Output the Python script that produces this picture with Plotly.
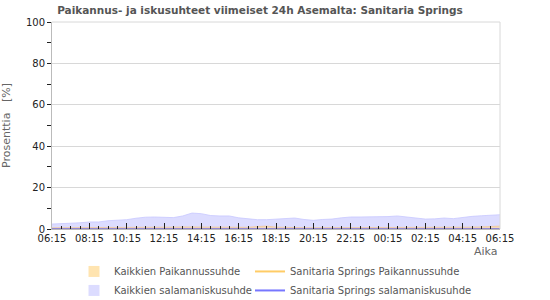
import plotly.graph_objects as go
import pandas as pd

# ---- data ----
start = pd.Timestamp("2024-01-01 06:15")
times = [start + pd.Timedelta(minutes=30 * i) for i in range(49)]
tick_labels = ["06:15", "08:15", "10:15", "12:15", "14:15", "16:15", "18:15",
               "20:15", "22:15", "00:15", "02:15", "04:15", "06:15"]

kaikkien_salama = [2.4, 2.5, 2.9, 3.0, 3.4, 3.4, 4.0, 4.2, 4.5, 5.2, 5.7, 5.8, 5.8,
                   5.5, 6.3, 7.7, 7.4, 6.5, 6.3, 6.3, 5.4, 4.8, 4.5, 4.5, 4.7, 4.9,
                   5.3, 4.6, 4.2, 4.6, 4.8, 5.4, 5.8, 5.8, 5.8, 5.8, 6.0, 6.3, 5.8,
                   5.4, 4.8, 4.9, 5.3, 5.0, 5.7, 6.1, 6.4, 6.8, 6.9]
kaikkien_paikannus = [0.6, 0.6, 0.6, 0.6, 0.6, 0.6, 0.6, 0.6, 0.6, 0.6, 0.6, 0.6, 0.7,
                      0.9, 1.0, 1.0, 1.0, 0.9, 0.8, 0.7, 0.7, 0.8, 1.2, 1.4, 0.9, 0.7,
                      0.6, 0.6, 0.6, 0.6, 0.6, 0.6, 0.6, 0.6, 0.6, 0.6, 0.6, 0.6, 0.6,
                      0.6, 0.6, 0.7, 0.8, 0.8, 0.8, 0.9, 1.0, 1.3, 1.4]
ss_paikannus = [0.0] * 49
ss_salama = [0.0] * 49

FONT = "DejaVu Sans"
fig = go.Figure()

# areas (purple behind orange)
fig.add_trace(go.Scatter(x=times, y=kaikkien_salama, mode="lines", fill="tozeroy",
                         fillcolor="#dcdcff", line=dict(color="#c8c8ff", width=0.8),
                         showlegend=False, hoverinfo="skip"))
fig.add_trace(go.Scatter(x=times, y=kaikkien_paikannus, mode="lines", fill="tozeroy",
                         fillcolor="#f3d9b8", line=dict(color="#f0c8a0", width=0.8),
                         showlegend=False, hoverinfo="skip"))
fig.add_trace(go.Scatter(x=times, y=ss_paikannus, mode="lines",
                         line=dict(color="#ffcc66", width=1.5), showlegend=False))
fig.add_trace(go.Scatter(x=times, y=ss_salama, mode="lines",
                         line=dict(color="#7070f0", width=1.5), showlegend=False))

# legend entries (two columns -> two legends)
fig.add_trace(go.Scatter(x=[None], y=[None], mode="markers", name="Kaikkien Paikannussuhde",
                         marker=dict(symbol="square", size=11, color="#ffe4b0"), legend="legend"))
fig.add_trace(go.Scatter(x=[None], y=[None], mode="markers", name="Kaikkien salamaniskusuhde",
                         marker=dict(symbol="square", size=11, color="#dcdcff"), legend="legend"))
fig.add_trace(go.Scatter(x=[None], y=[None], mode="lines", name="Sanitaria Springs Paikannussuhde",
                         line=dict(color="#ffcc66", width=2), legend="legend2"))
fig.add_trace(go.Scatter(x=[None], y=[None], mode="lines", name="Sanitaria Springs salamaniskusuhde",
                         line=dict(color="#7777ff", width=2), legend="legend2"))

tickvals = [start + pd.Timedelta(hours=2 * i) for i in range(13)]

leg_common = dict(orientation="v", xanchor="left", y=-0.135, yanchor="top",
                  tracegroupgap=0, font=dict(family=FONT, size=10, color="#555"),
                  itemwidth=30, traceorder="normal", bgcolor="rgba(0,0,0,0)")

fig.update_layout(
    width=550, height=300,
    margin=dict(l=52, r=50, t=22, b=71, autoexpand=False),
    paper_bgcolor="white", plot_bgcolor="white",
    font=dict(family=FONT, size=10, color="#222"),
    title=dict(text="<b>Paikannus- ja iskusuhteet viimeiset 24h Asemalta: Sanitaria Springs</b>",
               x=260 / 550, xanchor="center", y=0.965, yanchor="middle",
               font=dict(family=FONT, size=10.5, color="#555")),
    xaxis=dict(range=[times[0], times[-1]], tickvals=tickvals, ticktext=tick_labels,
               ticks="inside", ticklen=6, tickcolor="#222", tickwidth=1,
               minor=dict(dtick=30 * 60 * 1000, tick0=start, ticks="inside", ticklen=3,
                          tickcolor="#222", showgrid=False),
               showgrid=False, showline=True, linecolor="#bbb", mirror=False,
               zeroline=False, tickfont=dict(size=10, color="#222")),
    yaxis=dict(range=[0, 100], dtick=20, ticks="outside", ticklen=4, tickcolor="#222",
               minor=dict(dtick=10, ticks="outside", ticklen=4, tickcolor="#222", showgrid=False),
               showgrid=True, gridcolor="#d8d8d8", showline=True, linecolor="#bbb",
               zeroline=False, tickfont=dict(size=10, color="#222"),
               title=dict(text="Prosenttia   [%]", font=dict(size=11, color="#666"), standoff=16)),
    legend=dict(x=(74 - 52) / 448, **leg_common),
    legend2=dict(x=(250 - 52) / 448, **leg_common),
    showlegend=True,
)

# plot border (top/right)
fig.add_shape(type="line", xref="paper", yref="paper", x0=0, x1=1, y0=1, y1=1,
              line=dict(color="#d8d8d8", width=1))
fig.add_shape(type="line", xref="paper", yref="paper", x0=1, x1=1, y0=0, y1=1,
              line=dict(color="#d8d8d8", width=1))

fig.add_annotation(text="Aika", xref="paper", yref="paper", x=1.0, y=-0.07,
                   xanchor="right", yanchor="top", showarrow=False,
                   font=dict(family=FONT, size=11, color="#666"))

fig.write_html("out.html")
